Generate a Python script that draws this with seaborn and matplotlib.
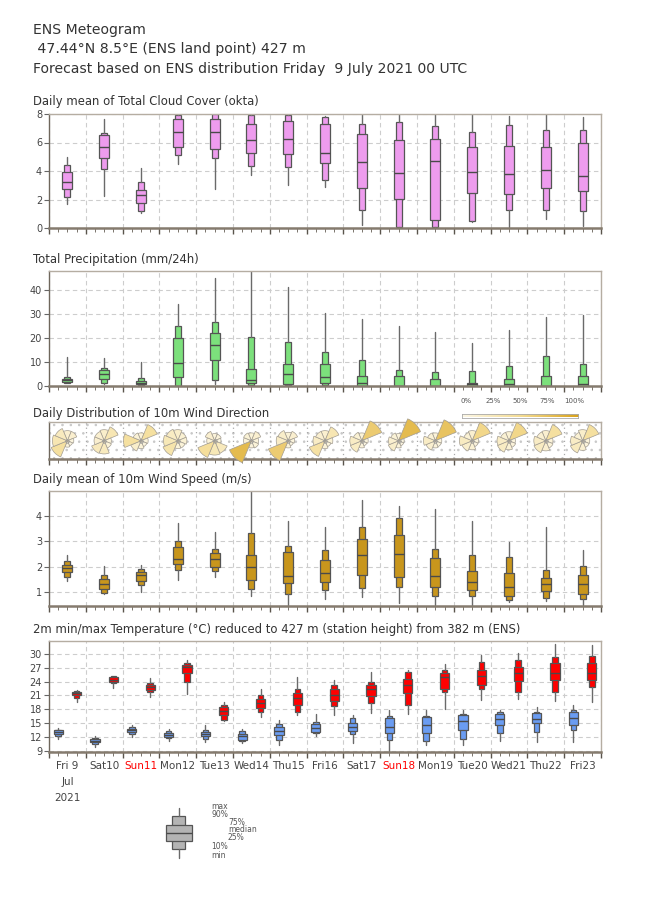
import numpy as np
import matplotlib
matplotlib.use("Agg")
import matplotlib.pyplot as plt
import seaborn as sns
from matplotlib.colors import LinearSegmentedColormap
from matplotlib.patches import Rectangle

# ---- data ----
days = ["Fri 9\nJul\n2021", "Sat10", "Sun11", "Mon12", "Tue13", "Wed14", "Thu15",
        "Fri16", "Sat17", "Sun18", "Mon19", "Tue20", "Wed21", "Thu22", "Fri23"]
sundays = ["Sun11", "Sun18"]

# columns: min, p10, p25, median, p75, p90, max
cloud = [
    [1.70, 2.17, 2.73, 3.24, 3.92, 4.41, 5.01],
    [2.26, 4.17, 4.94, 5.67, 6.51, 6.69, 7.65],
    [1.05, 1.21, 1.73, 2.31, 2.68, 3.26, 4.20],
    [4.50, 5.11, 5.71, 6.74, 7.63, 7.93, 8.00],
    [2.73, 4.94, 5.57, 6.74, 7.63, 7.98, 8.00],
    [3.75, 4.34, 5.25, 6.16, 7.28, 7.90, 8.00],
    [3.03, 4.27, 5.18, 6.27, 7.53, 7.90, 8.00],
    [2.85, 3.36, 4.55, 5.25, 7.32, 7.80, 7.86],
    [0.19, 1.24, 2.78, 4.62, 6.60, 7.30, 8.00],
    [0.00, 0.05, 2.05, 3.85, 6.18, 7.46, 8.00],
    [0.00, 0.05, 0.56, 4.71, 6.23, 7.18, 8.00],
    [0.42, 0.47, 2.45, 3.92, 5.71, 6.74, 8.00],
    [0.05, 1.26, 2.38, 3.78, 5.76, 7.25, 7.86],
    [0.65, 1.26, 2.78, 4.06, 5.71, 6.90, 8.00],
    [0.12, 1.21, 2.57, 3.64, 5.97, 6.90, 7.81],
]
precip = [
    [1.25, 1.5, 1.8, 2.5, 3.05, 3.75, 12.1],
    [1.0, 1.25, 2.9, 5.3, 6.7, 7.8, 11.7],
    [0.3, 0.4, 0.8, 1.5, 2.2, 3.3, 10.3],
    [0.0, 0.3, 3.75, 9.6, 20.0, 25.0, 34.2],
    [1.1, 2.5, 10.8, 17.1, 22.1, 26.7, 45.1],
    [0.4, 0.55, 1.25, 2.5, 7.4, 20.7, 50.0],
    [0.3, 0.55, 1.1, 5.0, 9.4, 18.6, 41.4],
    [0.3, 0.55, 1.5, 4.0, 9.3, 14.2, 30.4],
    [0.0, 0.0, 0.1, 1.25, 4.3, 11.1, 27.9],
    [0.0, 0.0, 0.0, 0.0, 4.2, 6.9, 25.1],
    [0.0, 0.0, 0.0, 0.1, 3.2, 6.1, 22.5],
    [0.0, 0.0, 0.3, 1.0, 1.5, 6.5, 17.9],
    [0.0, 0.0, 0.0, 0.8, 2.9, 8.3, 23.6],
    [0.0, 0.0, 0.0, 0.1, 4.3, 12.5, 28.8],
    [0.0, 0.0, 0.0, 1.0, 4.2, 9.4, 29.7],
]
wind_speed = [
    [1.45, 1.59, 1.80, 1.95, 2.08, 2.22, 2.45],
    [0.92, 0.97, 1.13, 1.33, 1.50, 1.66, 2.03],
    [1.01, 1.28, 1.43, 1.66, 1.79, 1.89, 2.05],
    [1.47, 1.86, 2.09, 2.29, 2.76, 3.00, 3.74],
    [1.58, 1.82, 1.97, 2.29, 2.55, 2.68, 3.37],
    [0.86, 1.12, 1.47, 2.00, 2.47, 3.34, 5.20],
    [0.49, 0.93, 1.34, 1.63, 2.57, 2.82, 3.80],
    [0.71, 1.08, 1.38, 1.74, 2.25, 2.66, 3.55],
    [0.79, 1.16, 1.67, 2.45, 3.10, 3.58, 4.63],
    [0.58, 1.20, 1.61, 2.49, 3.26, 3.91, 4.39],
    [0.49, 0.84, 1.18, 1.63, 2.33, 2.68, 4.28],
    [0.42, 0.86, 1.08, 1.41, 1.82, 2.45, 3.80],
    [0.59, 0.68, 0.86, 1.21, 1.76, 2.39, 2.97],
    [0.64, 0.76, 1.03, 1.30, 1.54, 1.86, 3.58],
    [0.50, 0.72, 0.92, 1.30, 1.67, 2.03, 2.66],
]
tmin = [
    [11.54, 12.26, 12.62, 13.06, 13.49, 13.64, 13.86],
    [9.80, 10.45, 10.88, 11.25, 11.54, 11.75, 12.19],
    [12.12, 12.62, 13.13, 13.49, 13.78, 14.14, 14.58],
    [11.25, 11.75, 12.04, 12.48, 12.99, 13.42, 13.78],
    [10.96, 11.54, 12.19, 12.77, 13.13, 13.49, 14.58],
    [10.74, 11.10, 11.39, 12.33, 12.77, 13.28, 13.78],
    [10.23, 11.32, 12.41, 13.42, 14.22, 14.87, 15.67],
    [12.19, 12.84, 13.06, 13.86, 14.87, 15.30, 17.04],
    [10.74, 12.77, 13.35, 14.14, 15.09, 16.17, 16.83],
    [8.70, 11.39, 12.91, 14.22, 16.03, 16.60, 17.90],
    [10.23, 11.10, 12.84, 14.58, 16.39, 16.46, 17.90],
    [10.23, 11.54, 13.64, 15.38, 16.68, 17.04, 17.90],
    [11.25, 12.84, 14.72, 15.88, 16.90, 17.33, 17.90],
    [10.96, 13.20, 14.94, 15.88, 17.12, 17.48, 18.42],
    [10.88, 13.64, 14.72, 16.03, 17.33, 17.84, 18.86],
]
tmax = [
    [19.65, 20.38, 21.03, 21.46, 21.83, 21.97, 22.26],
    [22.70, 23.70, 23.86, 24.43, 24.94, 25.10, 25.20],
    [20.74, 21.68, 22.26, 22.91, 23.35, 23.70, 24.72],
    [21.39, 23.86, 25.81, 27.04, 27.62, 28.06, 28.57],
    [15.45, 15.74, 16.68, 17.70, 18.49, 19.00, 19.50],
    [16.39, 17.48, 18.35, 19.29, 20.23, 21.10, 22.40],
    [16.83, 17.33, 19.00, 20.38, 21.61, 22.33, 25.01],
    [16.75, 18.64, 19.72, 21.03, 22.41, 23.28, 24.29],
    [17.26, 19.43, 20.88, 22.41, 23.20, 24.00, 26.03],
    [17.04, 18.93, 21.54, 23.20, 24.51, 25.96, 26.46],
    [18.06, 21.68, 22.41, 24.94, 25.74, 26.54, 27.77],
    [20.09, 22.41, 23.35, 25.16, 26.46, 28.28, 29.72],
    [20.16, 21.68, 24.07, 25.74, 27.19, 28.64, 30.16],
    [19.87, 21.68, 24.29, 25.74, 27.91, 29.29, 32.19],
    [19.58, 22.84, 24.29, 25.74, 27.99, 29.51, 31.83],
]

wind_dirs = ["N", "NE", "E", "SE", "S", "SW", "W", "NW"]
# share of members per direction, one row per day
wind_freq = [
    [0.10, 0.10, 0.04, 0.03, 0.04, 0.30, 0.22, 0.17],
    [0.12, 0.22, 0.05, 0.06, 0.17, 0.18, 0.10, 0.10],
    [0.06, 0.30, 0.05, 0.04, 0.06, 0.12, 0.30, 0.07],
    [0.12, 0.08, 0.08, 0.06, 0.06, 0.25, 0.20, 0.15],
    [0.05, 0.05, 0.04, 0.18, 0.20, 0.32, 0.06, 0.10],
    [0.06, 0.10, 0.05, 0.06, 0.05, 0.55, 0.06, 0.07],
    [0.07, 0.10, 0.04, 0.03, 0.05, 0.45, 0.14, 0.12],
    [0.10, 0.22, 0.06, 0.04, 0.06, 0.28, 0.14, 0.10],
    [0.06, 0.45, 0.04, 0.03, 0.05, 0.15, 0.14, 0.08],
    [0.05, 0.55, 0.03, 0.03, 0.05, 0.12, 0.10, 0.07],
    [0.06, 0.50, 0.04, 0.04, 0.05, 0.10, 0.14, 0.07],
    [0.10, 0.38, 0.04, 0.04, 0.08, 0.12, 0.16, 0.08],
    [0.08, 0.38, 0.04, 0.05, 0.08, 0.15, 0.14, 0.08],
    [0.10, 0.30, 0.05, 0.06, 0.10, 0.16, 0.14, 0.09],
    [0.12, 0.30, 0.05, 0.05, 0.09, 0.17, 0.14, 0.08],
]
legend_labels = ["min", "10%", "25%", "median", "75%", "90%", "max"]
cbar_ticks = [0, 25, 50, 75, 100]

# ---- style ----
sns.set_theme(style="white")
plt.rcParams["font.family"] = ["DejaVu Sans"]
plt.rcParams["hatch.linewidth"] = 0.6

FW, FH = 650, 916
fig = plt.figure(figsize=(FW / 100, FH / 100), dpi=100)
LEFT, RIGHT = 49, 601
ndays = len(days)


def px_axes(top, bottom, **kw):
    return fig.add_axes([LEFT / FW, 1 - bottom / FH, (RIGHT - LEFT) / FW, (bottom - top) / FH], **kw)


def style_axes(ax, ygrid=True):
    ax.set_xlim(0, ndays)
    ax.set_xticks(np.arange(ndays + 1))
    minor = [i + f for i in range(ndays) for f in (0.25, 0.5, 0.75)]
    ax.set_xticks(minor, minor=True)
    ax.tick_params(axis="x", which="major", bottom=True, length=4.5, width=1, color="#5a544c",
                   labelbottom=False)
    ax.tick_params(axis="x", which="minor", bottom=True, length=2.8, width=0.7, color="#7a746c",
                   labelbottom=False)
    ax.tick_params(axis="y", which="major", left=True, length=3.5, width=0.8, color="#666",
                   labelsize=7, labelcolor="#444", pad=1.5)
    ax.grid(axis="x", which="major", color="#cdcdcd", linestyle=(0, (4, 3)), linewidth=0.8)
    if ygrid:
        ax.grid(axis="y", which="major", color="#cdcdcd", linestyle=(0, (4, 3)), linewidth=0.8)
    ax.set_axisbelow(True)
    ax.set_facecolor("white")
    for side in ("top", "right"):
        ax.spines[side].set_color("#b5ada2")
        ax.spines[side].set_linewidth(1)
    ax.spines["left"].set_color("#6f675c")
    ax.spines["left"].set_linewidth(1)
    ax.spines["bottom"].set_color("#857b6e")
    ax.spines["bottom"].set_linewidth(1.8)


def draw_boxes(ax, data, positions, color, wide, narrow):
    d = np.asarray(data)
    outer = [dict(whislo=r[0], q1=r[1], med=r[1], q3=r[5], whishi=r[6]) for r in d]
    inner = [dict(whislo=r[2], q1=r[2], med=r[3], q3=r[4], whishi=r[4]) for r in d]
    ax.bxp(outer, positions=positions, widths=narrow, patch_artist=True, showcaps=False,
           showfliers=False, manage_ticks=False,
           boxprops=dict(facecolor=color, edgecolor="#555", linewidth=0.9),
           whiskerprops=dict(color="#6a6a6a", linewidth=1.0),
           medianprops=dict(linewidth=0))
    ax.bxp(inner, positions=positions, widths=wide, patch_artist=True, showcaps=False,
           showfliers=False, manage_ticks=False,
           boxprops=dict(facecolor=color, edgecolor="#555", linewidth=0.9),
           whiskerprops=dict(linewidth=0),
           medianprops=dict(color="#4a4a4a", linewidth=1.0))


def panel_title(text, ycenter):
    fig.text(33 / FW, 1 - ycenter / FH, text, fontsize=8.35, color="#333", va="center", ha="left")


# ---- header ----
header = ["ENS Meteogram",
          " 47.44°N 8.5°E (ENS land point) 427 m",
          "Forecast based on ENS distribution Friday  9 July 2021 00 UTC"]
for line, yc in zip(header, (30, 49.5, 69.5)):
    fig.text(33 / FW, 1 - yc / FH, line, fontsize=10.05, color="#333", va="center", ha="left")

centers = np.arange(ndays) + 0.5

# ---- cloud cover ----
ax1 = px_axes(114, 228)
style_axes(ax1)
draw_boxes(ax1, cloud, centers, "#ee9cee", 0.27, 0.16)
ax1.set_ylim(0, 8)
ax1.set_yticks([0, 2, 4, 6, 8])
panel_title("Daily mean of Total Cloud Cover (okta)", 102)

# ---- precipitation ----
ax2 = px_axes(270.7, 386.3)
style_axes(ax2)
draw_boxes(ax2, precip, centers, "#7ce07c", 0.27, 0.16)
ax2.set_ylim(0, 48.2)
ax2.set_yticks([0, 10, 20, 30, 40])
panel_title("Total Precipitation (mm/24h)", 260)

# ---- wind direction ----
ax3 = px_axes(422, 459.5)
style_axes(ax3, ygrid=False)
ax3.grid(axis="x", which="major", color="#aaaaaa", linestyle=(0, (1, 2.5)), linewidth=0.9)
ax3.set_yticks([])
ax3.set_ylim(0, 1)
ax3.add_patch(Rectangle((0, 0), 1, 1, transform=ax3.transAxes, hatch="..", fill=False,
                        edgecolor="#c8c8c8", linewidth=0, zorder=0.5))
panel_title("Daily Distribution of 10m Wind Direction", 413)

rose_cmap = LinearSegmentedColormap.from_list("rose", ["#fcf7e6", "#f4dc94", "#d9a21a"])
pos3 = ax3.get_position()
R = 32  # px for 100 %
theta = np.deg2rad(np.arange(len(wind_dirs)) * 45)
for i, freq in enumerate(wind_freq):
    freq = np.asarray(freq)
    cx = pos3.x0 + (i + 0.5) / ndays * pos3.width
    cy = pos3.y0 + pos3.height / 2
    pax = fig.add_axes([cx - R / FW, cy - R / FH, 2 * R / FW, 2 * R / FH], projection="polar")
    pax.set_theta_zero_location("N")
    pax.set_theta_direction(-1)
    pax.bar(theta, np.sqrt(freq), width=np.deg2rad(45), bottom=0,
            color=rose_cmap(freq / 0.7), edgecolor="#a39d92", linewidth=0.5)
    pax.plot([0], [0], marker="o", ms=2.5, mfc="none", mec="#999", mew=0.6)
    pax.set_ylim(0, 1)
    pax.set_axis_off()

# colour legend for the roses
cax = fig.add_axes([461.7 / FW, 1 - 417.5 / FH, (578.3 - 461.7) / FW, 3.5 / FH])
cax.imshow(np.linspace(0, 1, 256)[None, :], cmap=rose_cmap, aspect="auto",
           extent=(-4.5, 103.5, 0, 1))
cax.set_xlim(-4.5, 103.5)
cax.set_yticks([])
cax.set_xticks(cbar_ticks)
cax.set_xticklabels([f"{t}%" for t in cbar_ticks])
cax.tick_params(axis="x", bottom=False, top=False, labelbottom=False, labeltop=True,
                labelsize=5, labelcolor="#555", pad=1)
for s in cax.spines.values():
    s.set_color("#aaa")
    s.set_linewidth(0.6)

# ---- wind speed ----
ax4 = px_axes(490.7, 606)
style_axes(ax4)
draw_boxes(ax4, wind_speed, centers, "#c8961c", 0.27, 0.16)
ax4.set_ylim(0.447, 5.0)
ax4.set_yticks([1, 2, 3, 4])
panel_title("Daily mean of 10m Wind Speed (m/s)", 480)

# ---- temperature ----
ax5 = px_axes(641, 751.7)
style_axes(ax5)
draw_boxes(ax5, tmin, np.arange(ndays) + 0.25, "#6a9cf2", 0.25, 0.15)
draw_boxes(ax5, tmax, np.arange(ndays) + 0.75, "#ff0000", 0.25, 0.15)
ax5.set_ylim(8.85, 32.75)
ax5.set_yticks(np.arange(9, 31, 3))
panel_title("2m min/max Temperature (°C) reduced to 427 m (station height) from 382 m (ENS)", 630)

minor = [i + f for i in range(ndays) for f in (0.25, 0.5, 0.75)]
minor_labels = [days[i] if f == 0.5 else "" for i in range(ndays) for f in (0.25, 0.5, 0.75)]
ax5.set_xticks(minor, labels=minor_labels, minor=True)
ax5.tick_params(axis="x", which="minor", labelbottom=True, labelsize=7.5, labelcolor="#444", pad=4)
for lbl in ax5.get_xticklabels(minor=True):
    lbl.set_linespacing(1.75)
    if lbl.get_text() in sundays:
        lbl.set_color("red")

# ---- box legend ----
lax = fig.add_axes([140 / FW, 1 - 865 / FH, 160 / FW, 65 / FH])
lax.set_xlim(0, 160)
lax.set_ylim(-0.88, 6.97)
lax.set_axis_off()
vals = np.arange(len(legend_labels))
draw_boxes(lax, [vals], [38.7], "#b4b4b4", 26, 13)
lab_x = [71, 71, 88, 88, 88, 71, 71]
lab_y = [0.25, 1.35, 2.4, 3.35, 4.3, 5.25, 6.15]
for t, xx, yy in zip(legend_labels, lab_x, lab_y):
    lax.text(xx, yy, t, fontsize=5.5, color="#555", va="center", ha="left")

fig.savefig("out.png", dpi=100)
